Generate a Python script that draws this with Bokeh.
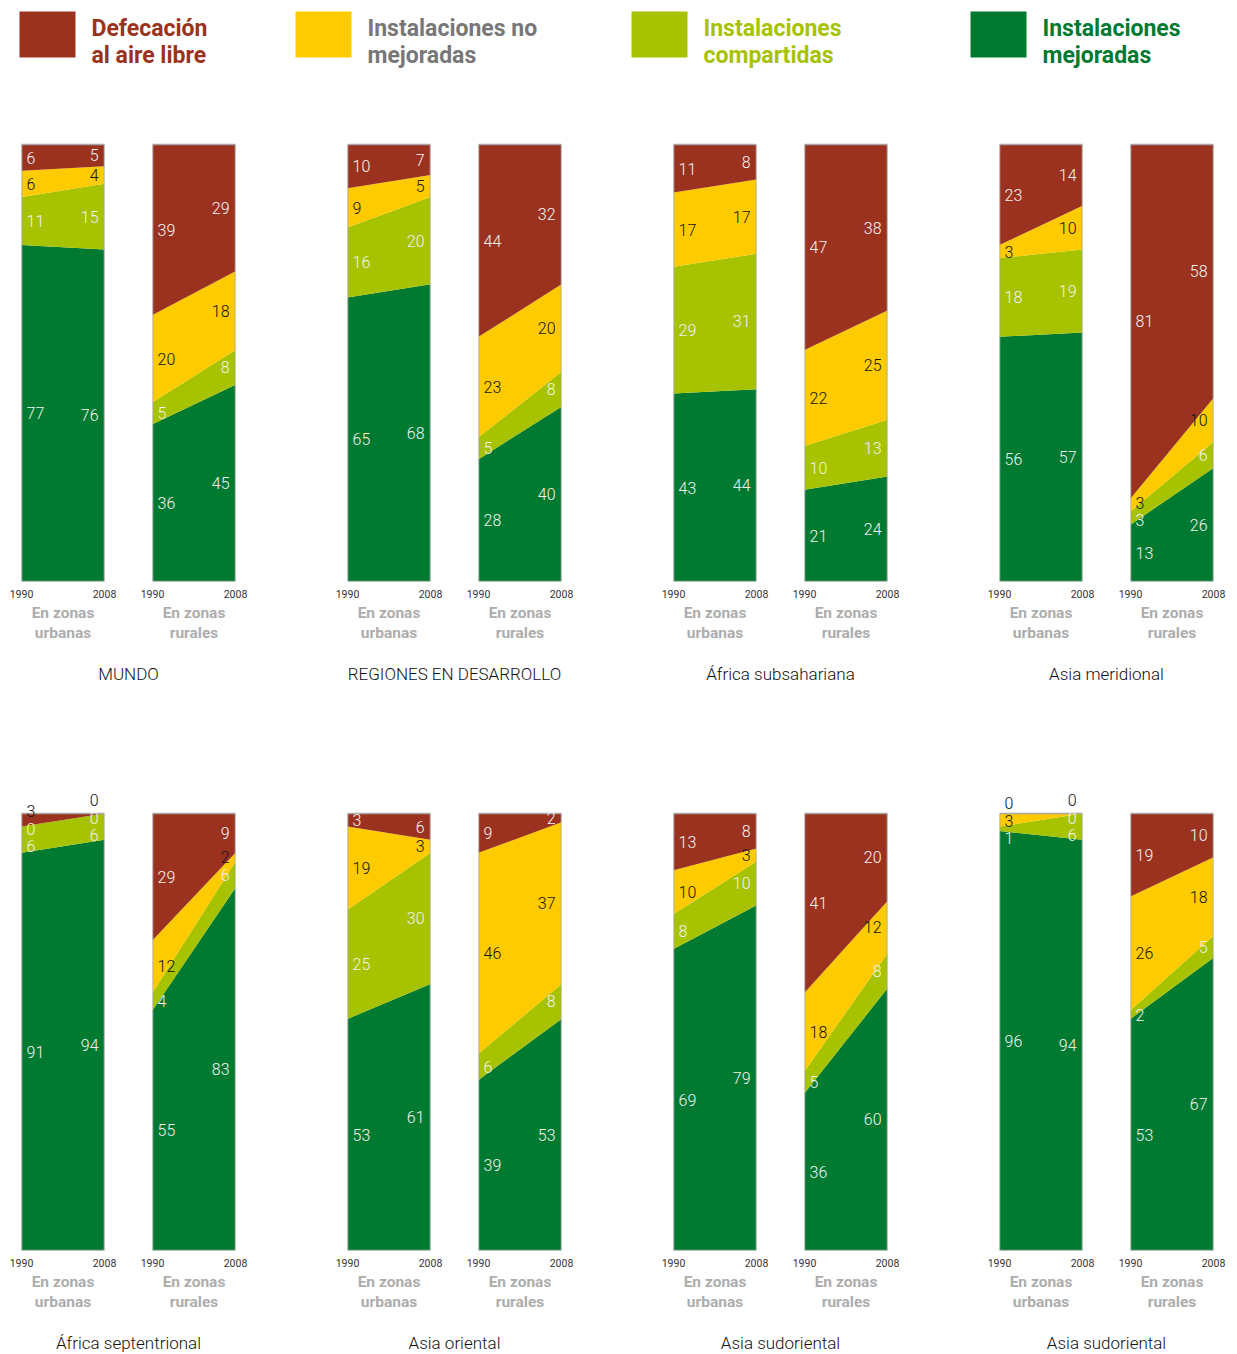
from bokeh.plotting import figure
from bokeh.models import ColumnDataSource, Range1d, FixedTicker, LabelSet, Label
from bokeh.layouts import row, column
from bokeh.embed import file_html
from bokeh.resources import INLINE
from bokeh.core.properties import value

# ---------------- data ----------------
YEARS = [1990, 2008]
REGIONS = ["MUNDO", "REGIONES EN DESARROLLO", "África subsahariana", "Asia meridional",
           "África septentrional", "Asia oriental", "Asia sudoriental", "Asia sudoriental"]
CATEGORIES = ["Defecación\nal aire libre", "Instalaciones no\nmejoradas",
              "Instalaciones\ncompartidas", "Instalaciones\nmejoradas"]
AREA_LABELS = ["En zonas\nurbanas", "En zonas\nrurales"]

# values per region: [1990, 2008]
urban_open = [[6, 5], [10, 7], [11, 8], [23, 14], [3, 0], [3, 6], [13, 8], [0, 0]]
urban_unimp = [[6, 4], [9, 5], [17, 17], [3, 10], [0, 0], [19, 3], [10, 3], [3, 0]]
urban_shared = [[11, 15], [16, 20], [29, 31], [18, 19], [6, 6], [25, 30], [8, 10], [1, 6]]
urban_impr = [[77, 76], [65, 68], [43, 44], [56, 57], [91, 94], [53, 61], [69, 79], [96, 94]]

rural_open = [[39, 29], [44, 32], [47, 38], [81, 58], [29, 9], [9, 2], [41, 20], [19, 10]]
rural_unimp = [[20, 18], [23, 20], [22, 25], [3, 10], [12, 2], [46, 37], [18, 12], [26, 18]]
rural_shared = [[5, 8], [5, 8], [10, 13], [3, 6], [4, 6], [6, 8], [5, 8], [2, 5]]
rural_impr = [[36, 45], [28, 40], [21, 24], [13, 26], [55, 83], [39, 53], [36, 60], [53, 67]]

# ---------------- styles ----------------
CAT_COLORS = ["#9b3220", "#fdcb00", "#a7c300", "#007a31"]       # open, unimp, shared, impr
LEGEND_TEXT_COLORS = ["#9b3220", "#777777", "#a7c300", "#007a31"]
STACK_KEYS = ["impr", "shared", "unimp", "open"]                # bottom -> top
STACK_COLORS = [CAT_COLORS[3], CAT_COLORS[2], CAT_COLORS[1], CAT_COLORS[0]]
NUM_FONT = "Roboto Light"
TITLE_FONT = "Roboto Light"
BOLD_FONT = "Roboto"
WHITE = "#f2f2f2"
DARK = "#151515"
GAP = 4.0  # minimum label separation in data units

FRAME_W, FRAME_H = 83, 437
EXTRA = 26                      # free room above the 100 % line for labels
Y_TOP = 100.0 * (FRAME_H + EXTRA) / FRAME_H
REGION_W = 240
REGION_SPACING = 86


def spread(ideals, gap):
    n = len(ideals)
    order = sorted(range(n), key=lambda i: ideals[i])
    clusters = [[i] for i in order]

    def lay(cl):
        m = sum(ideals[i] for i in cl) / len(cl)
        s = m - gap * (len(cl) - 1) / 2
        return {i: s + k * gap for k, i in enumerate(cl)}

    changed = True
    while changed:
        changed = False
        for j in range(len(clusters) - 1):
            a = lay(clusters[j])
            b = lay(clusters[j + 1])
            if b[clusters[j + 1][0]] - a[clusters[j][-1]] < gap - 1e-9:
                clusters[j] = clusters[j] + clusters[j + 1]
                del clusters[j + 1]
                changed = True
                break
    pos = {}
    for cl in clusters:
        pos.update(lay(cl))
    return [pos[i] for i in range(n)]


def label_source(stack_vals, yi):
    vals = [v[yi] for v in stack_vals]
    bounds = []
    acc = 0
    for v in vals:
        bounds.append((acc, acc + v))
        acc += v
    ideals = [(lo + hi) / 2 for lo, hi in bounds]
    ys = spread(ideals, GAP)
    colors = []
    for y in ys:
        if y > 100 or y < 0:
            colors.append(DARK)
            continue
        band = 0
        for k, (lo, hi) in enumerate(bounds):
            if hi > lo and lo <= y <= hi:
                band = k
                break
        colors.append(DARK if STACK_KEYS[band] == "unimp" else WHITE)
    return ColumnDataSource(dict(x=[YEARS[yi]] * len(vals), y=ys,
                                 text=[str(v) for v in vals], color=colors))


def make_panel(stack_vals, area_label, top, left, right):
    src = ColumnDataSource(dict(year=YEARS, **{k: [v[0], v[1]] for k, v in zip(STACK_KEYS, stack_vals)}))
    p = figure(frame_width=FRAME_W, frame_height=FRAME_H + EXTRA,
               x_range=Range1d(YEARS[0], YEARS[1]), y_range=Range1d(0, Y_TOP),
               toolbar_location=None, output_backend="svg", y_axis_location=None,
               min_border_top=top - EXTRA, min_border_bottom=70,
               min_border_left=left, min_border_right=right,
               background_fill_color="white", border_fill_color="white",
               outline_line_color=None)
    p.varea_stack(stackers=STACK_KEYS, x="year", color=STACK_COLORS, source=src)
    # panel frame (0 - 100 %)
    p.quad(left=[YEARS[0]], right=[YEARS[1]], bottom=[0], top=[100],
           fill_color=None, line_color="#a8a8a8", line_width=1.6)
    p.grid.visible = False
    ax = p.xaxis[0]
    ax.ticker = FixedTicker(ticks=YEARS)
    ax.major_label_text_font = BOLD_FONT
    ax.major_label_text_font_size = "10.5px"
    ax.major_label_text_color = "#333333"
    ax.major_label_standoff = 8
    ax.major_tick_out = 0
    ax.major_tick_in = 0
    ax.minor_tick_out = 0
    ax.minor_tick_in = 0
    ax.axis_line_color = None
    ax.axis_label = area_label
    ax.axis_label_text_font = BOLD_FONT
    ax.axis_label_text_font_style = "bold"
    ax.axis_label_text_font_size = "15.5px"
    ax.axis_label_text_color = "#adadad"
    ax.axis_label_standoff = 3
    ax.axis_label_text_line_height = 1.15

    for yi, (align, off) in enumerate([("left", 5), ("right", -6)]):
        ls = LabelSet(x="x", y="y", text="text", source=label_source(stack_vals, yi),
                      text_color="color", text_align=align, text_baseline="middle",
                      x_offset=off, text_font=value(NUM_FONT), text_font_size="16px")
        p.add_layout(ls)
    return p


def blank_fig(w, h):
    f = figure(width=w, height=h, x_range=Range1d(0, w), y_range=Range1d(h, 0),
               toolbar_location=None, output_backend="svg", min_border=0,
               x_axis_location=None, y_axis_location=None, outline_line_color=None)
    f.xgrid.visible = False
    f.ygrid.visible = False
    return f


def make_title(text, h, cy):
    t = blank_fig(REGION_W, h)
    t.add_layout(Label(x=120, y=cy, text=text, text_align="center", text_baseline="middle",
                       text_font=TITLE_FONT, text_font_size="17px", text_color="#111111"))
    return t


def region_block(i, top, title_h, title_cy):
    urban = [urban_impr[i], urban_shared[i], urban_unimp[i], urban_open[i]]
    rural = [rural_impr[i], rural_shared[i], rural_unimp[i], rural_open[i]]
    pu = make_panel(urban, AREA_LABELS[0], top, 13, 24)
    pr = make_panel(rural, AREA_LABELS[1], top, 24, 13)
    return column(row(pu, pr), make_title(REGIONS[i], title_h, title_cy))


# ---------------- legend ----------------
LEG_W, LEG_H = 4 * REGION_W + 3 * REGION_SPACING, 86
leg = blank_fig(LEG_W, LEG_H)
leg_left = [11, 287, 623, 962]
leg.quad(left=leg_left, right=[x + 56 for x in leg_left], top=[3] * 4, bottom=[49] * 4,
         color=CAT_COLORS, line_color=None)
lines1 = [c.split("\n")[0] for c in CATEGORIES]
lines2 = [c.split("\n")[1] for c in CATEGORIES]
for ty, txt in [(20, lines1), (47, lines2)]:
    leg.text(x=[x + 72 for x in leg_left], y=[ty] * 4, text=txt, text_color=LEGEND_TEXT_COLORS,
             text_font=value(BOLD_FONT), text_font_style="bold", text_font_size="23px",
             text_baseline="middle")

row1 = row([region_block(i, 50, 40, 22) for i in range(4)], spacing=REGION_SPACING)
row2 = row([region_block(i, 122, 33, 22) for i in range(4, 8)], spacing=REGION_SPACING)
layout = column(leg, row1, row2, margin=(8, 0, 0, 8))

open("out.html", "w").write(file_html(layout, INLINE))
